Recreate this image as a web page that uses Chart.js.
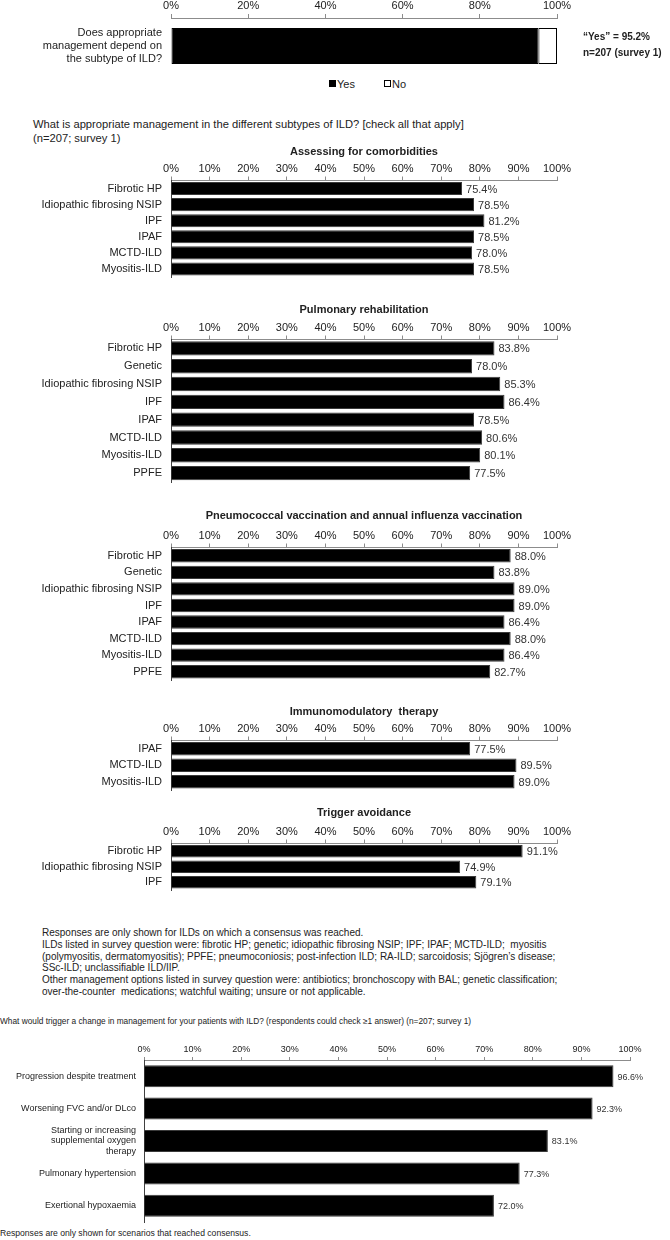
<!DOCTYPE html>
<html>
<head>
<meta charset="utf-8">
<title>ILD management survey</title>
<script src="https://cdn.jsdelivr.net/npm/chart.js@4"></script>
<style>
  body { margin: 0; background: #fff; width: 670px; height: 1240px; position: relative; overflow: hidden;
         font-family: 'Liberation Sans', Arial, sans-serif; color: #222; }
  canvas, .txt { position: absolute; }
  .txt { white-space: nowrap; }
  .box { display: inline-block; width: 5px; height: 5px; border: 1px solid #000; margin-right: 1px; vertical-align: 1px; }
  .fill { background: #000; }
</style>
</head>
<body>
<canvas id="overall"></canvas>
<div class="txt" style="left:583px; top:31px; font-size:10px; font-weight:bold">“Yes” = 95.2%</div>
<div class="txt" style="left:583px; top:47px; font-size:10px; font-weight:bold">n=207 (survey 1)</div>
<div class="txt" style="left:329px; top:78px; font-size:11px"><span class="box fill"></span>Yes<span class="box" style="margin-left:29px"></span>No</div>

<div class="txt" style="left:33px; top:117px; font-size:11.2px; line-height:14px">What is appropriate management in the different subtypes of ILD? [check all that apply]<br>(n=207; survey 1)</div>

<canvas id="comorbidities"></canvas>
<canvas id="rehab"></canvas>
<canvas id="vaccination"></canvas>
<canvas id="immuno"></canvas>
<canvas id="trigger"></canvas>

<div class="txt" style="left:42px; top:927px; font-size:10px; line-height:11.8px">Responses are only shown for ILDs on which a consensus was reached.<br>ILDs listed in survey question were: fibrotic HP; genetic; idiopathic fibrosing NSIP; IPF; IPAF; MCTD-ILD;&nbsp; myositis<br>(polymyositis, dermatomyositis); PPFE; pneumoconiosis; post-infection ILD; RA-ILD; sarcoidosis; Sjögren’s disease;<br>SSc-ILD; unclassifiable ILD/IIP.<br>Other management options listed in survey question were: antibiotics; bronchoscopy with BAL; genetic classification;<br>over-the-counter&nbsp; medications; watchful waiting; unsure or not applicable.</div>

<div class="txt" style="left:0px; top:1016px; font-size:8.3px">What would trigger a change in management for your patients with ILD? (respondents could check ≥1 answer) (n=207; survey 1)</div>
<canvas id="change"></canvas>
<div class="txt" style="left:0px; top:1228px; font-size:8.6px">Responses are only shown for scenarios that reached consensus.</div>

<script>
// --- data ---
const overallQuestion = [['Does appropriate', 'management depend on', 'the subtype of ILD?']];
const yesShare = [95.2];
const noShare = [4.8];

const comorbidityLabels = ['Fibrotic HP', 'Idiopathic fibrosing NSIP', 'IPF', 'IPAF', 'MCTD-ILD', 'Myositis-ILD'];
const comorbidityValues = [75.4, 78.5, 81.2, 78.5, 78.0, 78.5];

const rehabLabels = ['Fibrotic HP', 'Genetic', 'Idiopathic fibrosing NSIP', 'IPF', 'IPAF', 'MCTD-ILD', 'Myositis-ILD', 'PPFE'];
const rehabValues = [83.8, 78.0, 85.3, 86.4, 78.5, 80.6, 80.1, 77.5];

const vaccinationLabels = ['Fibrotic HP', 'Genetic', 'Idiopathic fibrosing NSIP', 'IPF', 'IPAF', 'MCTD-ILD', 'Myositis-ILD', 'PPFE'];
const vaccinationValues = [88.0, 83.8, 89.0, 89.0, 86.4, 88.0, 86.4, 82.7];

const immunoLabels = ['IPAF', 'MCTD-ILD', 'Myositis-ILD'];
const immunoValues = [77.5, 89.5, 89.0];

const triggerLabels = ['Fibrotic HP', 'Idiopathic fibrosing NSIP', 'IPF'];
const triggerValues = [91.1, 74.9, 79.1];

const changeLabels = ['Progression despite treatment', 'Worsening FVC and/or DLco',
  ['Starting or increasing', 'supplemental oxygen', 'therapy'], 'Pulmonary hypertension', 'Exertional hypoxaemia'];
const changeValues = [96.6, 92.3, 83.1, 77.3, 72.0];

const SANS = "'Liberation Sans', Arial, sans-serif";
const TITLE = 11; // title font size, also its line height

// prints "xx.x%" just right of each bar
const valueLabels = {
  id: 'valueLabels',
  afterDatasetsDraw(chart, args, opts) {
    const ctx = chart.ctx;
    const values = chart.data.datasets[0].data;
    ctx.save();
    ctx.font = opts.font;
    ctx.fillStyle = '#333';
    ctx.textAlign = 'left';
    ctx.textBaseline = 'middle';
    chart.getDatasetMeta(0).data.forEach((bar, i) => {
      ctx.fillText(values[i].toFixed(1) + '%', bar.x + opts.gap, bar.y + 1);
    });
    ctx.restore();
  }
};

function place(canvas, top, height) {
  canvas.width = 670;
  canvas.height = Math.round(height);
  canvas.style.left = '0px';
  canvas.style.top = top + 'px';
}

// overall yes / no question
const overallCanvas = document.getElementById('overall');
place(overallCanvas, 0, 74);
new Chart(overallCanvas, {
  type: 'bar',
  data: {
    labels: overallQuestion,
    datasets: [
      { label: 'Yes', data: yesShare, backgroundColor: '#000', borderColor: '#000', borderWidth: 1, borderSkipped: false },
      { label: 'No', data: noShare, backgroundColor: '#fff', borderColor: '#000', borderWidth: 1, borderSkipped: false }
    ]
  },
  options: {
    indexAxis: 'y', responsive: false, animation: false,
    categoryPercentage: 0.8, barPercentage: 0.8,
    layout: { padding: { left: 0, right: 113, top: 0, bottom: 0 } },
    scales: {
      x: {
        position: 'top', stacked: true, min: 0, max: 100,
        ticks: { stepSize: 20, padding: 1, autoSkip: false, maxRotation: 0, color: '#222',
                 font: { family: SANS, size: 11 }, callback: v => v + '%' },
        grid: { drawOnChartArea: false, tickLength: 4, color: '#8c8c8c' },
        border: { color: '#8c8c8c' },
        afterFit: s => { s.height = 18; s.paddingLeft = 0; s.paddingRight = 0; }
      },
      y: {
        stacked: true,
        ticks: { padding: 9, color: '#222', font: { family: SANS, size: 11, lineHeight: 1.22 } },
        grid: { display: false, drawTicks: false },
        border: { display: false },
        afterFit: s => { s.width = 171; s.paddingTop = 0; s.paddingBottom = 0; }
      }
    },
    plugins: { legend: { display: false }, tooltip: { enabled: false } }
  }
});

// one horizontal bar panel per management option
function sectionChart(id, title, labels, values, titleY, axisY, rowHeight) {
  const canvas = document.getElementById(id);
  const axisH = axisY - titleY - TITLE / 2;
  place(canvas, titleY - TITLE / 2, TITLE + axisH + labels.length * rowHeight + 2);
  return new Chart(canvas, {
    type: 'bar',
    data: {
      labels: labels,
      datasets: [{ data: values, backgroundColor: '#000', borderColor: '#3a3a3a', borderWidth: 1,
                   categoryPercentage: 0.9, barPercentage: 0.9 }]
    },
    options: {
      indexAxis: 'y', responsive: false, animation: false,
      layout: { padding: { left: 0, right: 113, top: 0, bottom: 2 } },
      scales: {
        x: {
          position: 'top', min: 0, max: 100,
          ticks: { stepSize: 10, padding: 1, autoSkip: false, maxRotation: 0, color: '#222',
                   font: { family: SANS, size: 11 }, callback: v => v + '%' },
          grid: { drawOnChartArea: false, tickLength: 4, color: '#8c8c8c' },
          border: { color: '#8c8c8c' },
          afterFit: s => { s.height = axisH; s.paddingLeft = 0; s.paddingRight = 0; }
        },
        y: {
          ticks: { padding: 9, autoSkip: false, color: '#222', font: { family: SANS, size: 11 } },
          grid: { display: false, drawTicks: false },
          border: { color: '#404040' },
          afterFit: s => { s.width = 171; s.paddingTop = 0; s.paddingBottom = 0; }
        }
      },
      plugins: {
        legend: { display: false },
        tooltip: { enabled: false },
        title: { display: true, text: title, fullSize: false, padding: 0, color: '#222',
                 font: { family: SANS, size: TITLE, weight: 'bold', lineHeight: 1 } },
        valueLabels: { font: '11px ' + SANS, gap: 4 }
      }
    },
    plugins: [valueLabels]
  });
}

sectionChart('comorbidities', 'Assessing for comorbidities', comorbidityLabels, comorbidityValues, 151, 180, 16);
sectionChart('rehab', 'Pulmonary rehabilitation', rehabLabels, rehabValues, 309, 339, 17.8);
sectionChart('vaccination', 'Pneumococcal vaccination and annual influenza vaccination', vaccinationLabels, vaccinationValues, 515, 547, 16.5);
sectionChart('immuno', 'Immunomodulatory  therapy', immunoLabels, immunoValues, 711, 740, 16.5);
sectionChart('trigger', 'Trigger avoidance', triggerLabels, triggerValues, 812, 843, 15.5);

// what would trigger a change in management
const changeCanvas = document.getElementById('change');
place(changeCanvas, 1044, 16 + changeLabels.length * 32.3 + 2);
new Chart(changeCanvas, {
  type: 'bar',
  data: {
    labels: changeLabels,
    datasets: [{ data: changeValues, backgroundColor: '#000', borderColor: '#3a3a3a', borderWidth: 1,
                 categoryPercentage: 0.85, barPercentage: 0.8 }]
  },
  options: {
    indexAxis: 'y', responsive: false, animation: false,
    layout: { padding: { left: 0, right: 40, top: 0, bottom: 2 } },
    scales: {
      x: {
        position: 'top', min: 0, max: 100,
        ticks: { stepSize: 10, padding: 2, autoSkip: false, maxRotation: 0, color: '#222',
                 font: { family: SANS, size: 9 }, callback: v => v + '%' },
        grid: { drawOnChartArea: false, tickLength: 3, color: '#8c8c8c' },
        border: { color: '#8c8c8c' },
        afterFit: s => { s.height = 16; s.paddingLeft = 0; s.paddingRight = 0; }
      },
      y: {
        ticks: { padding: 8, autoSkip: false, color: '#222', font: { family: SANS, size: 9, lineHeight: 1.17 } },
        grid: { display: false, drawTicks: false },
        border: { color: '#404040' },
        afterFit: s => { s.width = 144; s.paddingTop = 0; s.paddingBottom = 0; }
      }
    },
    plugins: {
      legend: { display: false },
      tooltip: { enabled: false },
      valueLabels: { font: '9px ' + SANS, gap: 4 }
    }
  },
  plugins: [valueLabels]
});
</script>
</body>
</html>
